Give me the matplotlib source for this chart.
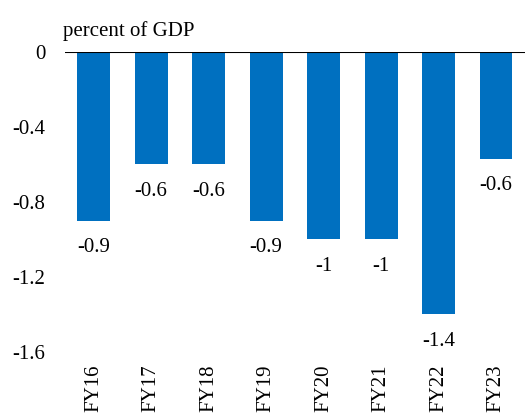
import matplotlib
matplotlib.use("Agg")
import matplotlib.pyplot as plt

# fiscal years and balance (percent of GDP)
years = ['FY16', 'FY17', 'FY18', 'FY19', 'FY20', 'FY21', 'FY22', 'FY23']
values = [-0.9, -0.6, -0.6, -0.9, -1.0, -1.0, -1.4, -0.57]
yticks = [0, -0.4, -0.8, -1.2, -1.6]

plt.rcParams['font.family'] = ['Liberation Serif', 'DejaVu Serif']
plt.rcParams['font.size'] = 15

def fmt(v):
    s = '%.1f' % v
    if s.endswith('.0'):
        s = s[:-2]
    return s

fig = plt.figure(figsize=(5.28, 4.15), dpi=100)
ax = fig.add_axes([0.123, 0.152, 0.871, 0.723])

x = range(len(years))
ax.bar(x, values, width=0.57, color='#0070C0', zorder=2)
ax.axhline(0, color='black', lw=1.5, zorder=3)

for i, v in enumerate(values):
    ax.annotate(fmt(v), (i, v), xytext=(0, -19.5), textcoords='offset points',
                ha='center', va='center')

ax.set_xlim(-0.5, len(years) - 0.5)
ax.set_ylim(-1.6, 0)
ax.set_yticks(yticks)
ax.set_yticklabels([fmt(t) for t in yticks])
ax.set_xticks(list(x))
ax.set_xticklabels(years, rotation=90)
ax.tick_params(length=0)
ax.tick_params(axis='x', pad=9)
ax.tick_params(axis='y', pad=14)
for s in ax.spines.values():
    s.set_visible(False)

fig.text(0.12, 0.925, 'percent of GDP', ha='left', va='center')

fig.savefig('out.png', dpi=100)
